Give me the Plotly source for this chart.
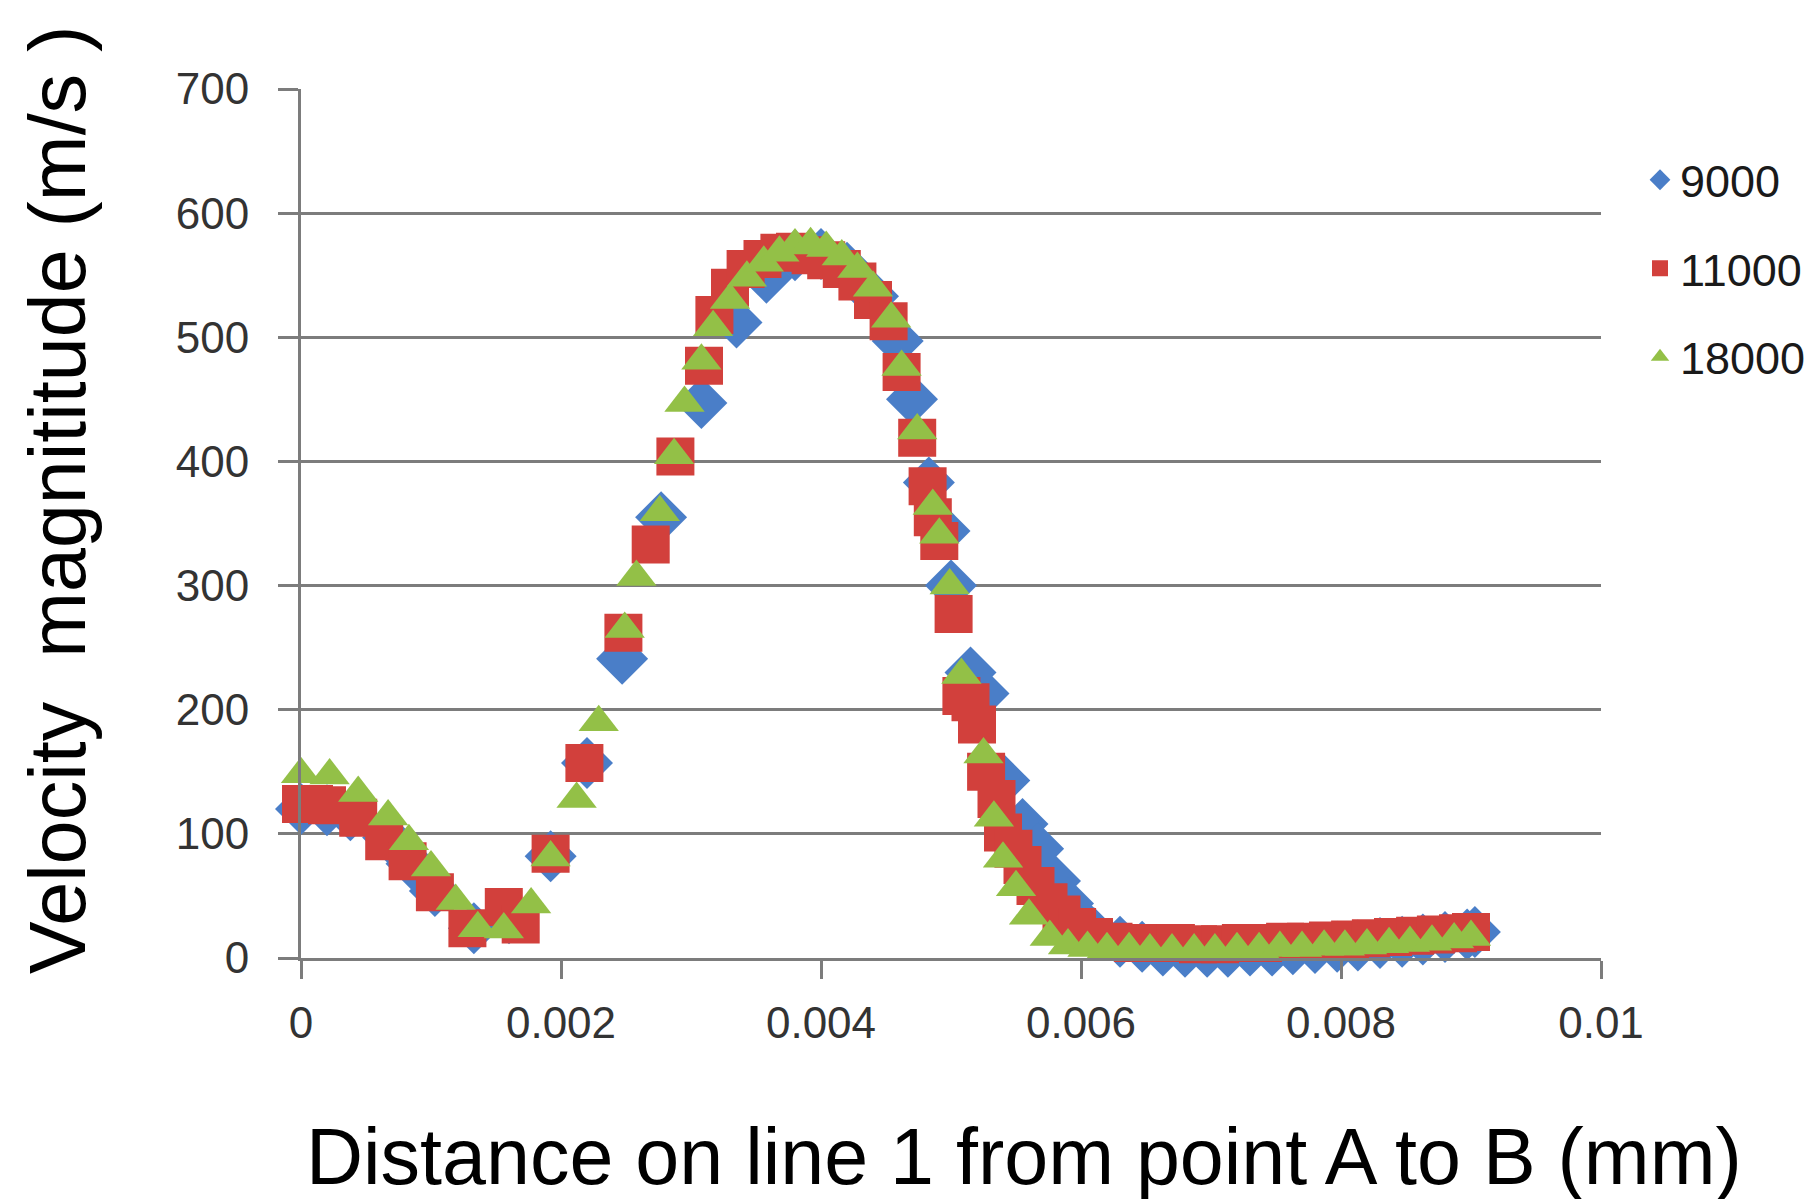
import plotly.graph_objects as go

# ---------------- data ----------------
series_names = ["9000", "11000", "18000"]

x_9000 = [0, 0.0002, 0.00038, 0.00067, 0.00085, 0.00103, 0.00133, 0.0016, 0.00192, 0.0022,
          0.00247, 0.00277, 0.00308, 0.00335, 0.00358, 0.0038, 0.004, 0.0042, 0.0044, 0.00459,
          0.0047, 0.00483, 0.00495, 0.005, 0.00515, 0.00525, 0.00541, 0.00555, 0.00567, 0.0058,
          0.0059, 0.006, 0.0061, 0.0063, 0.00647, 0.00663, 0.0068, 0.00697, 0.00713, 0.0073,
          0.00747, 0.00763, 0.0078, 0.00797, 0.00813, 0.0083, 0.00847, 0.00863, 0.0088, 0.00897,
          0.00903]
y_9000 = [120, 119, 115, 97, 76, 54, 24, 32, 82, 157,
          241, 355, 447, 512, 548, 566, 567, 556, 533, 497,
          450, 383, 344, 300, 230, 213, 143, 108, 88, 62,
          44, 30, 20, 13, 9, 6, 5, 5, 5, 6,
          6, 7, 8, 9, 10, 12, 13, 15, 17, 19,
          21]

x_11000 = [0, 0.0001, 0.0002, 0.00044, 0.00064, 0.00082, 0.00103, 0.00128, 0.00156, 0.00169,
           0.00192, 0.00218, 0.00248, 0.00269, 0.00288, 0.0031, 0.00318, 0.0033, 0.00342, 0.00355,
           0.00368, 0.0038, 0.00392, 0.00404, 0.00416, 0.00428, 0.0044, 0.00452, 0.00462, 0.00474,
           0.00482, 0.00486, 0.00491, 0.00502, 0.00508, 0.00515, 0.0052, 0.00527, 0.00535, 0.0054,
           0.00548, 0.00555, 0.00565, 0.00575, 0.00585, 0.00597, 0.0061, 0.00625, 0.0064, 0.00657,
           0.00673, 0.0069, 0.00707, 0.00723, 0.0074, 0.00757, 0.00773, 0.0079, 0.00807, 0.00823,
           0.0084, 0.00857, 0.00873, 0.0089, 0.009]
y_11000 = [124, 124, 123, 113, 94, 78, 53, 24, 41, 27,
           84, 157, 262, 333, 404, 477, 518, 540, 555, 563,
           568, 569, 566, 562, 555, 545, 530, 513, 472, 419,
           380, 355, 336, 277, 211, 206, 188, 150, 128, 101,
           88, 75, 58, 45, 35, 25, 17, 13, 12, 12,
           12, 11, 11, 12, 12, 13, 13, 14, 15, 16,
           17, 18, 19, 20, 21]

x_18000 = [0, 0.00022, 0.00044, 0.00067, 0.00083, 0.001, 0.00119, 0.00136, 0.00156, 0.00177,
           0.00192, 0.00212, 0.00229, 0.00249, 0.00258, 0.00276, 0.00287, 0.00295, 0.00308, 0.00317,
           0.0033, 0.00343, 0.00356, 0.00368, 0.0038, 0.00392, 0.00404, 0.00416, 0.00428, 0.0044,
           0.00454, 0.00462, 0.00474, 0.00486, 0.00491, 0.00499, 0.00508, 0.00525, 0.00533, 0.0054,
           0.0055, 0.0056, 0.00576, 0.0059, 0.00605, 0.0062, 0.00637, 0.00653, 0.0067, 0.00687,
           0.00703, 0.0072, 0.00737, 0.00753, 0.0077, 0.00787, 0.00803, 0.0082, 0.00837, 0.00853,
           0.0087, 0.00887, 0.009]
y_18000 = [148, 147, 133, 114, 94, 73, 46, 24, 23, 43,
           81, 128, 190, 265, 307, 359, 405, 447, 481, 508,
           530, 548, 560, 568, 574, 575, 572, 565, 555, 540,
           515, 476, 425, 364, 341, 300, 228, 164, 113, 80,
           57, 34, 17, 10, 8, 7, 7, 6, 6, 6,
           6, 7, 7, 8, 8, 9, 9, 10, 11, 12,
           13, 15, 17]

x_tick_vals = [0, 0.002, 0.004, 0.006, 0.008, 0.01]
x_tick_text = ["0", "0.002", "0.004", "0.006", "0.008", "0.01"]
y_tick_vals = [0, 100, 200, 300, 400, 500, 600, 700]

x_title = "Distance on line 1 from point A to B (mm)"
y_title = "Velocity  magnititude (m/s )"

# ---------------- styling ----------------
colors = ["#4a7ec8", "#d2403c", "#93c047"]
symbols = ["diamond", "square", "triangle-up"]
sizes = [40, 38, 35]
GRID = "#7c7c7c"
FONT = "Liberation Sans, Arial, sans-serif"

L, T, W, H = 293, 81, 1300, 869   # plot area in pixels


def px_x(p):
    return (p - L) / W


def px_y(p):
    return (T + H - p) / H


fig = go.Figure()
for name, xs, ys, c, s, sz in zip(series_names,
                                   [x_9000, x_11000, x_18000],
                                   [y_9000, y_11000, y_18000],
                                   colors, symbols, sizes):
    fig.add_trace(go.Scatter(
        x=xs, y=ys, name=name, mode="markers",
        marker=dict(symbol=s, size=sz, color=c, line=dict(width=0)),
        cliponaxis=False, legendgroup=name,
    ))

fig.update_layout(
    width=1818, height=1199,
    margin=dict(l=L, r=1818 - L - W, t=T, b=1199 - T - H),
    paper_bgcolor="white", plot_bgcolor="white",
    font=dict(family=FONT, color="#222222"),
    showlegend=True,
    legend=dict(
        x=px_x(1632), xanchor="left",
        y=px_y(136), yanchor="top",
        font=dict(size=45, color="#1a1a1a", family=FONT),
        traceorder="grouped", tracegroupgap=27,
        bgcolor="rgba(0,0,0,0)",
    ),
    xaxis=dict(
        range=[0, 0.01], tickvals=x_tick_vals, ticktext=x_tick_text,
        showgrid=False, zeroline=False,
        showline=True, linecolor=GRID, linewidth=3,
        ticks="outside", ticklen=18, tickwidth=3, tickcolor=GRID,
        tickfont=dict(size=44, color="#333333", family=FONT),
        ticklabelstandoff=6,
    ),
    yaxis=dict(
        range=[0, 700], tickvals=y_tick_vals,
        showgrid=True, gridcolor=GRID, gridwidth=3,
        zeroline=False,
        showline=True, linecolor=GRID, linewidth=3,
        ticks="outside", ticklen=20, tickwidth=3, tickcolor=GRID,
        tickfont=dict(size=44, color="#333333", family=FONT),
        ticklabelstandoff=20,
    ),
    annotations=[
        dict(text=x_title, xref="paper", yref="paper",
             x=px_x(1016), y=px_y(1148),
             xanchor="center", yanchor="middle", showarrow=False,
             font=dict(size=79, color="#000000", family=FONT)),
        dict(text=y_title, xref="paper", yref="paper",
             x=px_x(50), y=px_y(492),
             xanchor="center", yanchor="middle", showarrow=False, textangle=-90,
             font=dict(size=79, color="#000000", family=FONT)),
    ],
)

fig.write_html("out.html")
